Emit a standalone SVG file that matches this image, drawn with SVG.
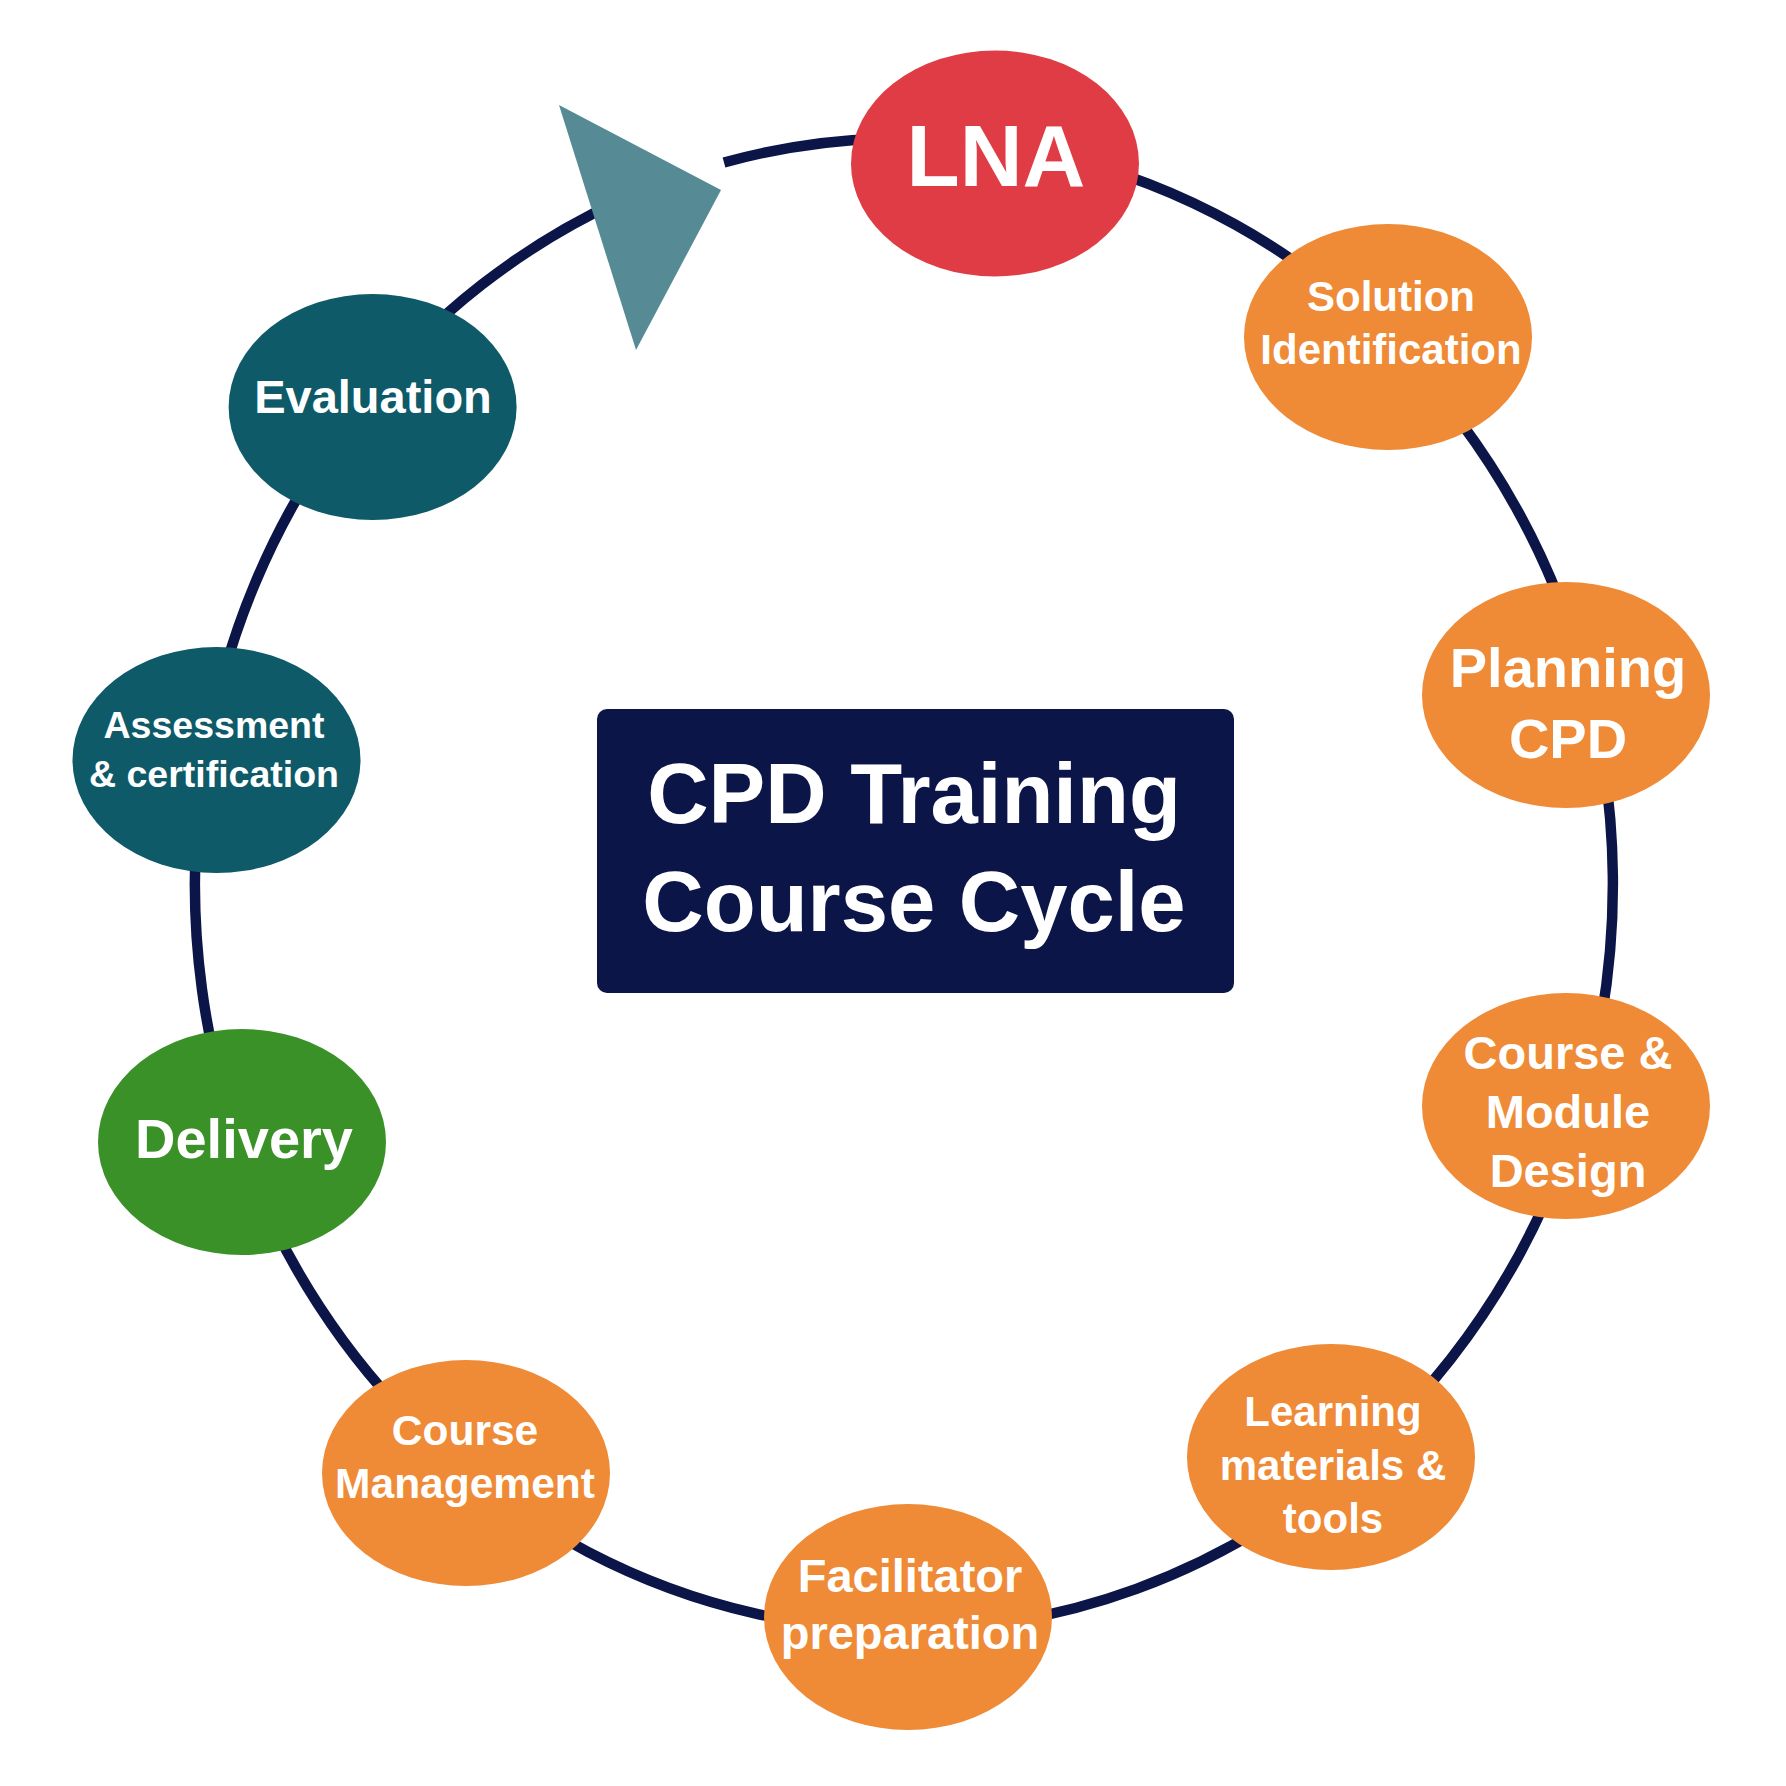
<svg xmlns="http://www.w3.org/2000/svg" width="1786" height="1786" viewBox="0 0 1786 1786">
<style>
.lbl{font-family:"Liberation Sans",Arial,Helvetica,sans-serif;font-weight:bold;fill:#ffffff;text-anchor:middle}
.orange{fill:#ef8a36}
.teal{fill:#0e5a68}
</style>
<rect width="1786" height="1786" fill="#ffffff"/>
<g id="connectors">
<path d="M 724 162.5 A 709 746 0 1 1 620 200.5" fill="none" stroke="#0b1548" stroke-width="10.5"/>
<polygon points="559,105 721,190 636,350" fill="#568b96"/>
</g>
<g id="center">
<rect x="597" y="709" width="637" height="284" rx="10" fill="#0b1548"/>
<text class="lbl" x="914" y="823" font-size="85">CPD Training</text>
<text class="lbl" x="914" y="931" font-size="85">Course Cycle</text>
</g>
<g id="lna">
<ellipse cx="995" cy="163.5" rx="144" ry="113" fill="#e03c45"/>
<text class="lbl" x="996" y="186" font-size="87">LNA</text>
</g>
<g id="solution">
<ellipse class="orange" cx="1388" cy="337" rx="144" ry="113"/>
<text class="lbl" x="1391" y="311" font-size="42">Solution</text>
<text class="lbl" x="1391" y="364" font-size="42">Identification</text>
</g>
<g id="planning">
<ellipse class="orange" cx="1566" cy="695" rx="144" ry="113"/>
<text class="lbl" x="1568" y="687" font-size="56">Planning</text>
<text class="lbl" x="1568" y="758" font-size="56">CPD</text>
</g>
<g id="design">
<ellipse class="orange" cx="1566" cy="1106" rx="144" ry="113"/>
<text class="lbl" x="1568" y="1069" font-size="47">Course &amp;</text>
<text class="lbl" x="1568" y="1128" font-size="47">Module</text>
<text class="lbl" x="1568" y="1187" font-size="47">Design</text>
</g>
<g id="materials">
<ellipse class="orange" cx="1331" cy="1457" rx="144" ry="113"/>
<text class="lbl" x="1333" y="1426" font-size="42">Learning</text>
<text class="lbl" x="1333" y="1480" font-size="42">materials &amp;</text>
<text class="lbl" x="1333" y="1533" font-size="42">tools</text>
</g>
<g id="facilitator">
<ellipse class="orange" cx="908" cy="1617" rx="144" ry="113"/>
<text class="lbl" x="910" y="1592" font-size="47">Facilitator</text>
<text class="lbl" x="910" y="1649" font-size="47">preparation</text>
</g>
<g id="management">
<ellipse class="orange" cx="466" cy="1473" rx="144" ry="113"/>
<text class="lbl" x="465" y="1445" font-size="42.5">Course</text>
<text class="lbl" x="465" y="1498" font-size="42.5">Management</text>
</g>
<g id="delivery">
<ellipse cx="242" cy="1142" rx="144" ry="113" fill="#3a9128"/>
<text class="lbl" x="244" y="1158" font-size="56">Delivery</text>
</g>
<g id="assessment">
<ellipse class="teal" cx="216.5" cy="760" rx="144" ry="113"/>
<text class="lbl" x="214" y="738" font-size="37.5">Assessment</text>
<text class="lbl" x="214" y="787" font-size="37.5">&amp; certification</text>
</g>
<g id="evaluation">
<ellipse class="teal" cx="372.6" cy="407" rx="144" ry="113"/>
<text class="lbl" x="373" y="412.5" font-size="47">Evaluation</text>
</g>
</svg>
